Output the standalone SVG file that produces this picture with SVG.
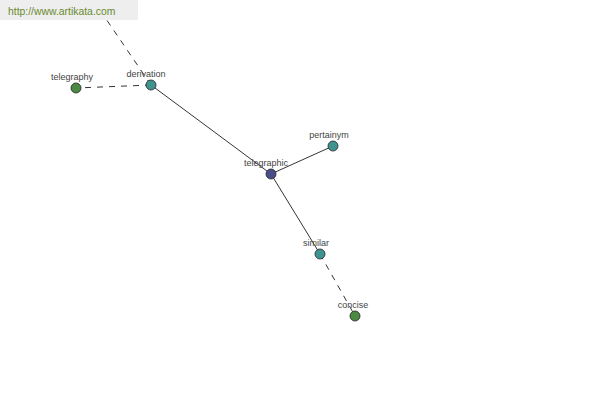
<svg xmlns="http://www.w3.org/2000/svg" width="600" height="400" viewBox="0 0 600 400">
<style>
.solid{stroke:#000;stroke-width:0.8;fill:none}
.dash{stroke:#000;stroke-width:0.8;fill:none;stroke-dasharray:6,6}
.n{stroke:#222;stroke-width:0.8}
.g{fill:#4c8a44}
.t{fill:#3f9490}
.b{fill:#4a4c8c}
.lbl{font-family:"Liberation Sans",Arial,sans-serif;font-size:9px;fill:#444;text-anchor:middle}
</style>
<rect width="600" height="400" fill="#fff"/>
<g id="connectors">
<line class="dash" x1="151" y1="85" x2="104" y2="16"/>
<line class="dash" x1="151" y1="85" x2="76" y2="88"/>
<line class="solid" x1="151" y1="85" x2="271" y2="174"/>
<line class="solid" x1="271" y1="174" x2="333" y2="146"/>
<line class="solid" x1="271" y1="174" x2="320" y2="254"/>
<line class="dash" x1="320" y1="254" x2="355" y2="316"/>
</g>
<g id="banner">
<rect x="0" y="0" width="138" height="20" fill="#eeeeee"/>
<text x="8" y="15" font-family="Liberation Sans,Arial,sans-serif" font-size="10.4" fill="#6a8a30">http://www.artikata.com</text>
</g>
<g id="telegraphy"><circle class="n g" cx="76" cy="88" r="5"/><text class="lbl" x="72" y="80">telegraphy</text></g>
<g id="derivation"><circle class="n t" cx="151" cy="85" r="5"/><text class="lbl" x="146" y="77">derivation</text></g>
<g id="telegraphic"><circle class="n b" cx="271" cy="174" r="5"/><text class="lbl" x="266" y="166">telegraphic</text></g>
<g id="pertainym"><circle class="n t" cx="333" cy="146" r="5"/><text class="lbl" x="329" y="138">pertainym</text></g>
<g id="similar"><circle class="n t" cx="320" cy="254" r="5"/><text class="lbl" x="316" y="246">similar</text></g>
<g id="concise"><circle class="n g" cx="355" cy="316" r="5"/><text class="lbl" x="353" y="308">concise</text></g>
</svg>
